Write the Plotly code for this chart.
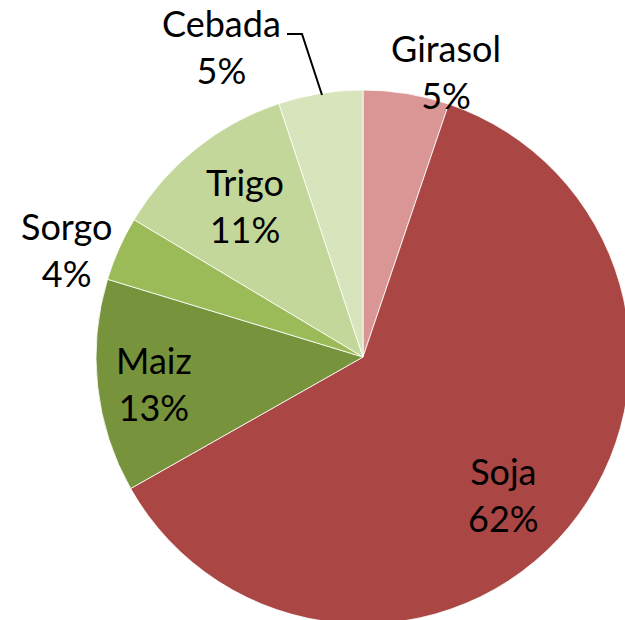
import plotly.graph_objects as go

# ---- data ----
categories = ["Girasol", "Soja", "Maiz", "Sorgo", "Trigo", "Cebada"]
values = [5.2, 61.6, 12.9, 3.9, 11.3, 5.1]
colors = ["#DA9694", "#AA4644", "#77933C", "#9BBB59", "#C4D79B", "#D8E4BC"]

# ---- layout geometry (pixels) ----
FIG_W, FIG_H = 640, 630
M_L, M_R, M_T, M_B = 96, 10, 90, 6
PW = FIG_W - M_L - M_R
PH = FIG_H - M_T - M_B

def px_to_paper(x, y):
    return (x - M_L) / PW, (FIG_H - M_B - y) / PH

# label block centres (pixels), one per category
label_pos = [(446, 72), (503, 494), (154, 383), (66, 250), (245, 205), (221, 47)]

fig = go.Figure(go.Pie(
    labels=categories,
    values=values,
    sort=False,
    direction="clockwise",
    rotation=0,
    marker=dict(colors=colors, line=dict(color="white", width=0.8)),
    textinfo="none",
    hoverinfo="label+percent",
    showlegend=False,
    domain=dict(x=[0, 1], y=[0, 1]),
))

total = sum(values)
annotations = []
for name, v, (lx, ly) in zip(categories, values, label_pos):
    ax, ay = px_to_paper(lx, ly)
    annotations.append(dict(
        x=ax, y=ay, xref="paper", yref="paper",
        text=f"{name}<br>{round(100 * v / total)}%",
        showarrow=False, xanchor="center", yanchor="middle",
        font=dict(family="Lato, Carlito, Calibri, sans-serif", size=36, color="black"),
    ))

# leader line for Cebada
p1 = px_to_paper(287, 34)
p2 = px_to_paper(302, 34)
p3 = px_to_paper(322, 95)
shapes = [dict(
    type="path", xref="paper", yref="paper",
    path=f"M {p1[0]},{p1[1]} L {p2[0]},{p2[1]} L {p3[0]},{p3[1]}",
    line=dict(color="black", width=2),
)]

fig.update_layout(
    width=FIG_W, height=FIG_H,
    margin=dict(l=M_L, r=M_R, t=M_T, b=M_B),
    paper_bgcolor="white", plot_bgcolor="white",
    annotations=annotations, shapes=shapes,
)

fig.write_html(
    "out.html",
    config={"displayModeBar": False},
    post_script="document.body.style.margin='0';document.body.style.overflow='hidden';document.documentElement.style.overflow='hidden';",
)
